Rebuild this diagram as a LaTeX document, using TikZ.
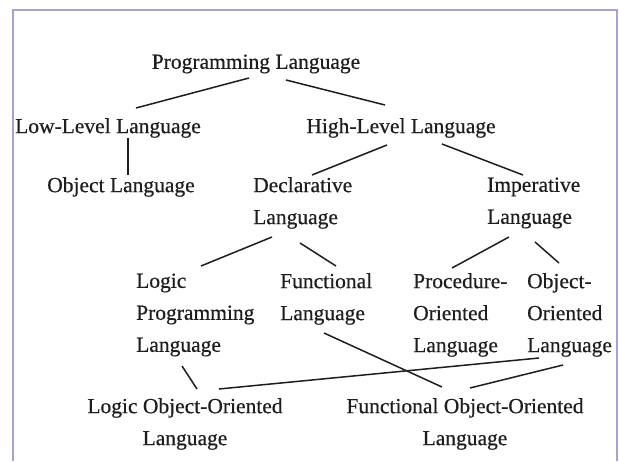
\documentclass[tikz,border=0pt]{standalone}
\usepackage{fontspec}
\setmainfont{Liberation Serif}[AutoFakeBold=0.5]
\usetikzlibrary{calc}
\definecolor{framec}{HTML}{A4A4CE}
\definecolor{inkc}{HTML}{1E1E1E}
\begin{document}
\begin{tikzpicture}[x=1pt,y=-1pt,
  lbl/.style={inner sep=0pt,text=inkc,font=\fontsize{21.5}{32}\selectfont\bfseries},
  lbll/.style={lbl,align=left,anchor=west},
  lblc/.style={lbl,align=center},
  conn/.style={draw=inkc,line width=1.5pt}]
\useasboundingbox (0,0) rectangle (619,461);
\fill[white] (0,0) rectangle (619,461);
\draw[framec,line width=1.8pt] (13,461) -- (13,10) -- (617,10) -- (617,461);
% nodes
\node[lblc] (P) at (256,64) {Programming Language};
\node[lblc] (LL) at (108,128) {Low-Level Language};
\node[lblc] (HL) at (401,128) {High-Level Language};
\node[lblc] (OL) at (121,187) {Object Language};
\node[lbll] (DL) at (253,203) {Declarative\\Language};
\node[lbll] (IL) at (487,203) {Imperative\\Language};
\node[lbll] (LP) at (136,315) {Logic\\Programming\\Language};
\node[lbll] (FL) at (280,299) {Functional\\Language};
\node[lbll] (PO) at (413,315) {Procedure-\\Oriented\\Language};
\node[lbll] (OO) at (527,315) {Object-\\Oriented\\Language};
\node[lblc] (LOO) at (185,424) {Logic Object-Oriented\\Language};
\node[lblc] (FOO) at (465,424) {Functional Object-Oriented\\Language};
% connectors
\draw[conn] ($(P)+(-7,14)$) -- ($(LL)+(28,-20)$);
\draw[conn] ($(P)+(30,16)$) -- ($(HL)+(-16,-23)$);
\draw[conn] ($(LL)+(20,10)$) -- ($(OL)+(7,-12)$);
\draw[conn] ($(HL)+(-14,17)$) -- ($(DL.west)+(59,-28)$);
\draw[conn] ($(HL)+(41,16)$) -- ($(IL.west)+(36,-28)$);
\draw[conn] ($(DL.west)+(19,34)$) -- ($(LP.west)+(65,-49)$);
\draw[conn] ($(DL.west)+(47,40)$) -- ($(FL.west)+(56,-33)$);
\draw[conn] ($(IL.west)+(22,34)$) -- ($(PO.west)+(39,-47)$);
\draw[conn] ($(IL.west)+(48,39)$) -- ($(OO.west)+(32,-52)$);
\draw[conn] ($(LP.west)+(46,51)$) -- ($(LOO)+(12,-35)$);
\draw[conn] ($(FL.west)+(44,34)$) -- ($(FOO)+(-23,-37)$);
\draw[conn] ($(OO.west)+(12,43)$) -- ($(LOO)+(34,-35)$);
\draw[conn] ($(OO.west)+(36,50)$) -- ($(FOO)+(5,-36)$);
\end{tikzpicture}
\end{document}
